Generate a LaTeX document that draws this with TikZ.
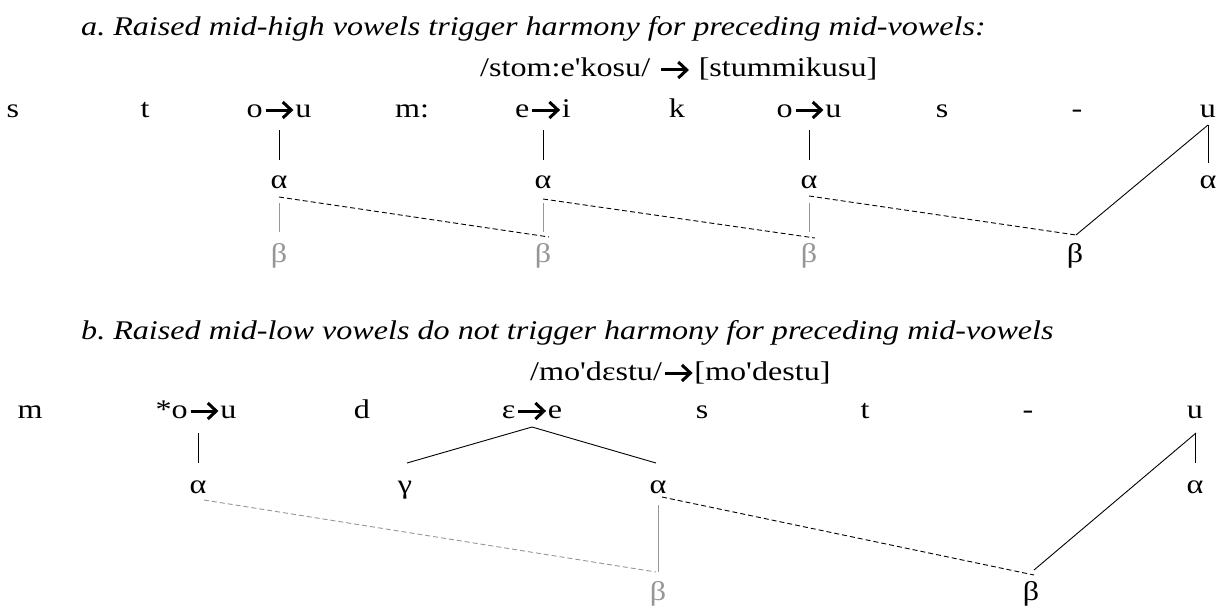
\documentclass[tikz,border=0pt]{standalone}
\usepackage{fontspec}
\setmainfont{Liberation Serif}[Ligatures=TeXOff, FakeStretch=1.19]
\usetikzlibrary{calc}
\definecolor{lgray}{RGB}{150,150,150}
\newcommand{\ra}{\hspace{1.5pt}\tikz[baseline=0pt,x=1pt,y=1pt]{\draw[line width=3pt, line join=miter, black] (0,7)--(25,7); \draw[line width=3pt, line join=miter, black] (17,15)--(25.5,7)--(17,-1);}\hspace{2.5pt}}
\tikzset{
  txt/.style={font=\fontsize{27}{30}\selectfont, inner sep=0pt, anchor=base},
  ttl/.style={font=\fontsize{27}{30}\selectfont\itshape, inner sep=0pt, anchor=base west},
  gtxt/.style={txt, text=lgray},
  ln/.style={line width=0.9pt, black},
  gln/.style={line width=0.9pt, lgray},
  dln/.style={line width=0.9pt, black, dash pattern=on 5pt off 3pt},
  gdln/.style={line width=0.9pt, lgray, dash pattern=on 5pt off 3pt}
}
\begin{document}
\frenchspacing
\begin{tikzpicture}[x=1pt,y=-1pt]
\useasboundingbox (0,0) rectangle (1225,610);
% ---------- part a ----------
\node[ttl] (ta) at (81,36) {a. Raised mid-high vowels trigger harmony for preceding mid-vowels:};
\node[txt, anchor=base west] (fa) at (480,77) {/stom:e'kosu/ \ra{} [stummikusu]};
\node[txt] (as1) at (13,117) {s};
\node[txt] (at1) at (145,117) {t};
\node[txt] (aou1) at (279,117) {o\ra u};
\node[txt] (am) at (412,117) {m:};
\node[txt] (aei) at (543,117) {e\ra i};
\node[txt] (ak) at (677,117) {k};
\node[txt] (aou2) at (809,117) {o\ra u};
\node[txt] (as2) at (942,117) {s};
\node[txt] (ah) at (1077,117) {-};
\node[txt] (au) at (1208,117) {u};
\node[txt] (aa1) at (279,188) {α};
\node[txt] (aa2) at (543,188) {α};
\node[txt] (aa3) at (809,188) {α};
\node[txt] (aa4) at (1208,188) {α};
\node[gtxt] (ab1) at (279,262) {β};
\node[gtxt] (ab2) at (543,262) {β};
\node[gtxt] (ab3) at (809,262) {β};
\node[txt] (ab4) at (1075,262) {β};
% associations
\draw[ln] ([yshift=-13pt]aou1.base) -- ([yshift=28pt]aa1.base);
\draw[ln] ([yshift=-13pt]aei.base) -- ([yshift=28pt]aa2.base);
\draw[ln] ([yshift=-13pt]aou2.base) -- ([yshift=28pt]aa3.base);
\draw[ln] ([yshift=-8pt]au.base) -- ([yshift=25pt]aa4.base);
\draw[ln] ([yshift=-8pt]au.base) -- ([xshift=1pt,yshift=27pt]ab4.base);
\draw[gln] ([yshift=-15pt]aa1.base) -- ([yshift=30pt]ab1.base);
\draw[gln] ([yshift=-15pt]aa2.base) -- ([yshift=30pt]ab2.base);
\draw[gln] ([yshift=-15pt]aa3.base) -- ([yshift=30pt]ab3.base);
\draw[dln] ([yshift=-9pt]aa1.base) -- ([xshift=6pt,yshift=25pt]ab2.base);
\draw[dln] ([yshift=-11pt]aa2.base) -- ([xshift=6pt,yshift=24pt]ab3.base);
\draw[dln] ([yshift=-8pt]aa3.base) -- ([xshift=1pt,yshift=27pt]ab4.base);
% ---------- part b ----------
\node[ttl] (tb) at (81,339) {b. Raised mid-low vowels do not trigger harmony for preceding mid-vowels};
\node[txt, anchor=base west] (fb) at (530,380) {/mo'dεstu/\ra[mo'destu]};
\node[txt] (bm) at (30,418) {m};
\node[txt] (bou) at (196,418) {*o\ra u};
\node[txt] (bd) at (362,418) {d};
\node[txt] (bee) at (532,418) {ε\ra e};
\node[txt] (bs) at (702,418) {s};
\node[txt] (bt) at (865,418) {t};
\node[txt] (bh) at (1028,418) {-};
\node[txt] (bu) at (1195,418) {u};
\node[txt] (ba1) at (198,493) {α};
\node[txt] (bg) at (405,493) {γ};
\node[txt] (ba2) at (658,493) {α};
\node[txt] (ba3) at (1195,493) {α};
\node[gtxt] (bb1) at (658,600) {β};
\node[txt] (bb2) at (1031,600) {β};
% associations
\draw[ln] ([xshift=2pt,yshift=-15pt]bou.base) -- ([yshift=30pt]ba1.base);
\draw[ln] ([yshift=-9pt]bee.base) -- ([xshift=2pt,yshift=30pt]bg.base);
\draw[ln] ([yshift=-9pt]bee.base) -- ([xshift=-2pt,yshift=30pt]ba2.base);
\draw[ln] ([yshift=-15pt]bu.base) -- ([yshift=30pt]ba3.base);
\draw[ln] ([xshift=1pt,yshift=-15pt]bu.base) -- ([xshift=3pt,yshift=30pt]bb2.base);
\draw[gln] ([yshift=-12pt]ba2.base) -- ([yshift=28pt]bb1.base);
\draw[gdln] ([xshift=6pt,yshift=-7pt]ba1.base) -- ([xshift=-2pt,yshift=28pt]bb1.base);
\draw[dln] ([xshift=4pt,yshift=-4pt]ba2.base) -- ([xshift=3pt,yshift=25pt]bb2.base);
\end{tikzpicture}
\end{document}
